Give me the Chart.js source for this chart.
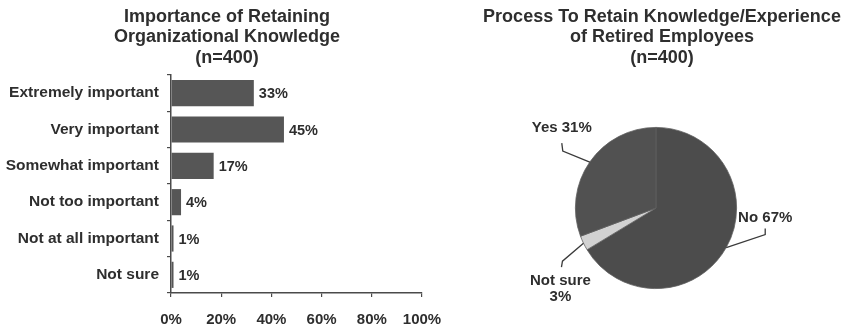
<!DOCTYPE html>
<html>
<head>
<meta charset="utf-8">
<script src="https://cdn.jsdelivr.net/npm/chart.js@4.4.1/dist/chart.umd.min.js"></script>
<style>
  html, body { margin: 0; padding: 0; background: #ffffff; }
  #wrap { position: relative; width: 848px; height: 325px; overflow: hidden; }
  #barBox { position: absolute; left: 0; top: 0; width: 450px; height: 325px; }
  #pieBox { position: absolute; left: 476px; top: 0; width: 372px; height: 325px; }
</style>
</head>
<body>
<div id="wrap">
  <div id="barBox"><canvas id="barChart"></canvas></div>
  <div id="pieBox"><canvas id="pieChart"></canvas></div>
</div>
<script>
// Importance of retaining organizational knowledge (percent of respondents)
const importanceCategories = ['Extremely important', 'Very important', 'Somewhat important',
  'Not too important', 'Not at all important', 'Not sure'];
const importanceValues = [33, 45, 17, 4, 1, 1];
const axisTicks = [0, 20, 40, 60, 80, 100];

// Process to retain knowledge/experience of retired employees
const processCategories = ['No', 'Not sure', 'Yes'];
const processValues = [67, 3, 31];
const processLabelLines = [['No 67%'], ['Not sure', '3%'], ['Yes 31%']];

const barTitle = ['Importance of Retaining', 'Organizational Knowledge', '(n=400)'];
const pieTitle = ['Process To Retain Knowledge/Experience', 'of Retired Employees', '(n=400)'];

const FONT = '"Liberation Sans", Arial, Helvetica, sans-serif';
const INK = '#2e2e2e';
const AXIS = '#4a4a4a';

Chart.defaults.font.family = FONT;
Chart.defaults.color = INK;
Chart.defaults.animation = false;

// Three-line heading drawn above each chart, centred on a chosen x
const heading = {
  id: 'heading',
  afterDraw(chart, args, opts) {
    const ctx = chart.ctx;
    ctx.save();
    ctx.font = 'bold 18px ' + FONT;
    ctx.fillStyle = INK;
    ctx.textAlign = 'center';
    ctx.textBaseline = 'middle';
    opts.lines.forEach((line, i) => ctx.fillText(line, opts.x, opts.y + i * 20.5));
    ctx.restore();
  }
};

// Percent labels to the right of each bar
const barValueLabels = {
  id: 'barValueLabels',
  afterDatasetsDraw(chart) {
    const ctx = chart.ctx;
    const meta = chart.getDatasetMeta(0);
    ctx.save();
    ctx.font = 'bold 14.5px ' + FONT;
    ctx.fillStyle = INK;
    ctx.textAlign = 'left';
    ctx.textBaseline = 'middle';
    meta.data.forEach((el, i) => {
      ctx.fillText(importanceValues[i] + '%', el.x + 5, el.y + 1);
    });
    ctx.restore();
  }
};

new Chart(document.getElementById('barChart'), {
  type: 'bar',
  data: {
    labels: importanceCategories,
    datasets: [{
      data: importanceValues,
      backgroundColor: '#565656',
      borderWidth: 0,
      categoryPercentage: 1,
      barPercentage: 0.72
    }]
  },
  options: {
    indexAxis: 'y',
    responsive: true,
    maintainAspectRatio: false,
    layout: { padding: { left: 0, right: 28, top: 75, bottom: 0 } },
    plugins: {
      legend: { display: false },
      tooltip: { enabled: false },
      title: { display: false },
      heading: { lines: barTitle, x: 227, y: 17 }
    },
    scales: {
      x: {
        min: 0,
        max: 100,
        afterBuildTicks(scale) { scale.ticks = axisTicks.map(v => ({ value: v })); },
        afterFit(scale) {
          scale.height = 32;
          scale.paddingLeft = 0;
          scale.paddingRight = 0;
        },
        ticks: {
          callback: v => v + '%',
          font: { size: 15, weight: 'bold' },
          color: INK,
          padding: 14,
          maxRotation: 0
        },
        grid: { drawOnChartArea: false, drawTicks: true, tickLength: 4, color: AXIS, lineWidth: 1.2 },
        border: { display: true, color: AXIS, width: 1.5 }
      },
      y: {
        afterFit(scale) { scale.width = 171; },
        ticks: {
          font: { size: 15.5, weight: 'bold' },
          color: INK,
          padding: 8
        },
        grid: { drawOnChartArea: false, drawTicks: true, tickLength: 4, color: AXIS, lineWidth: 1.2, offset: true },
        border: { display: true, color: AXIS, width: 1.5 }
      }
    }
  },
  plugins: [barValueLabels, heading]
});

// Leader lines and labels around the pie; offsets are measured from the slice's rim point
const pieLabelLayout = [
  { elbow: [39, -13], end: [39, -19], text: [39, -30] },
  { elbow: [-21, 18], end: [-22, 24], text: [-23, 38] },
  { elbow: [-27, -11], end: [-28, -19], text: [-28, -34] }
];

const pieCallouts = {
  id: 'pieCallouts',
  afterDatasetsDraw(chart) {
    const ctx = chart.ctx;
    const meta = chart.getDatasetMeta(0);
    ctx.save();
    ctx.strokeStyle = '#3a3a3a';
    ctx.lineWidth = 1.3;
    ctx.font = 'bold 15px ' + FONT;
    ctx.fillStyle = INK;
    ctx.textAlign = 'center';
    ctx.textBaseline = 'middle';
    meta.data.forEach((arc, i) => {
      const mid = (arc.startAngle + arc.endAngle) / 2;
      const r = arc.outerRadius;
      const ex = arc.x + Math.cos(mid) * r;
      const ey = arc.y + Math.sin(mid) * r;
      const L = pieLabelLayout[i];
      ctx.beginPath();
      ctx.moveTo(ex, ey);
      ctx.lineTo(ex + L.elbow[0], ey + L.elbow[1]);
      ctx.lineTo(ex + L.end[0], ey + L.end[1]);
      ctx.stroke();
      processLabelLines[i].forEach((line, k) => {
        ctx.fillText(line, ex + L.text[0], ey + L.text[1] + k * 16);
      });
    });
    ctx.restore();
  }
};

new Chart(document.getElementById('pieChart'), {
  type: 'pie',
  data: {
    labels: processCategories,
    datasets: [{
      data: processValues,
      backgroundColor: ['#4c4c4c', '#d2d2d2', '#515151'],
      borderColor: '#606060',
      borderWidth: 0.8
    }]
  },
  options: {
    responsive: true,
    maintainAspectRatio: false,
    layout: { padding: { left: 0, right: 12, top: 127, bottom: 36 } },
    plugins: {
      legend: { display: false },
      tooltip: { enabled: false },
      title: { display: false },
      heading: { lines: pieTitle, x: 186, y: 17 }
    }
  },
  plugins: [pieCallouts, heading]
});
</script>
</body>
</html>
